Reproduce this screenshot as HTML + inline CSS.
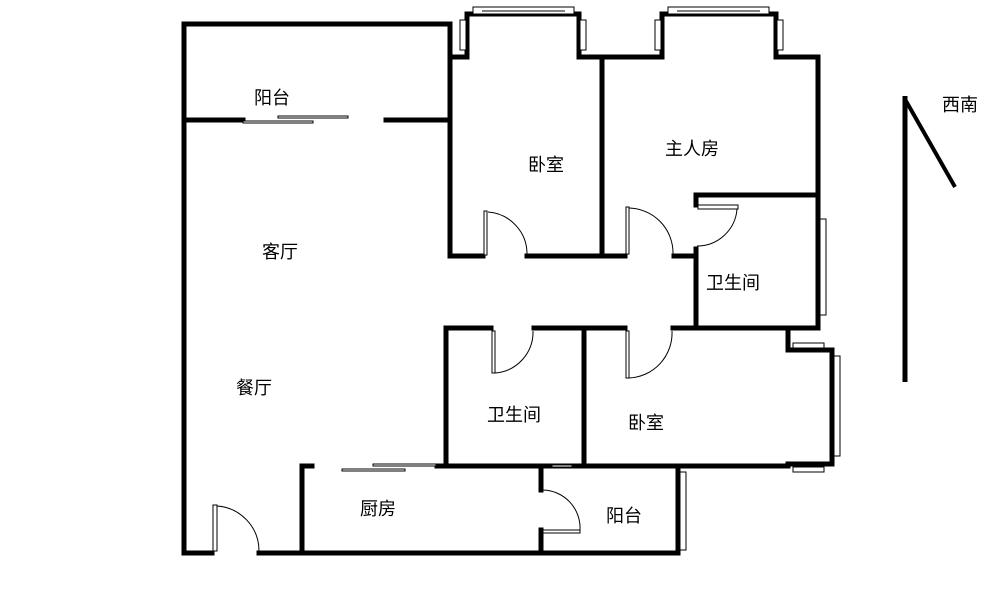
<!DOCTYPE html>
<html><head><meta charset="utf-8"><style>
html,body{margin:0;padding:0;background:#fff;}
svg{display:block}
text{font-family:"Liberation Sans","Noto Sans CJK SC",sans-serif;font-size:18px;fill:#000}
</style></head><body>
<svg width="997" height="590" viewBox="0 0 997 590" xmlns="http://www.w3.org/2000/svg">
<g stroke="#000" stroke-width="5" fill="none" stroke-linecap="square">
<!-- outer left/top -->
<polyline points="184,553 184,24 450,24 450,256"/>
<line x1="184" y1="120" x2="243" y2="120"/>
<line x1="386" y1="120" x2="450" y2="120"/>
<!-- bedroom1 -->
<polyline points="450,57 467,57 467,14 579,14 579,57 602,57"/>
<line x1="602" y1="57" x2="602" y2="256"/>
<line x1="450" y1="256" x2="483" y2="256"/>
<line x1="527" y1="256" x2="625" y2="256"/>
<line x1="674" y1="256" x2="696" y2="256"/>
<!-- master -->
<polyline points="602,57 662,57 662,14 776,14 776,57 818,57 818,328"/>
<polyline points="696,205 696,195 818,195"/>
<line x1="696" y1="249" x2="696" y2="328"/>
<!-- bedroom2 -->
<polyline points="446,466 446,328 491,328"/>
<line x1="534" y1="328" x2="625" y2="328"/>
<line x1="673" y1="328" x2="818" y2="328"/>
<line x1="584" y1="328" x2="584" y2="466"/>
<polyline points="788,328 788,350 832,350 832,464 788,464 788,466"/>
<line x1="437" y1="466" x2="788" y2="466"/>
<!-- kitchen/bottom -->
<line x1="302" y1="466" x2="312" y2="466"/>
<line x1="302" y1="466" x2="302" y2="553"/>
<line x1="184" y1="553" x2="212" y2="553"/>
<line x1="259" y1="553" x2="678" y2="553"/>
<line x1="541" y1="466" x2="541" y2="490"/>
<line x1="541" y1="530" x2="541" y2="553"/>
<line x1="678" y1="466" x2="678" y2="553"/>
<!-- compass -->
<line x1="905" y1="96" x2="905" y2="382" stroke-width="5" stroke-linecap="butt"/>
<line x1="906" y1="101" x2="955" y2="187" stroke-width="4" stroke-linecap="butt"/>
</g>
<g stroke="#000" stroke-width="1" fill="#fff">
<!-- sliding doors -->
<rect x="278" y="116" width="70" height="2"/><rect x="243" y="121" width="70" height="2"/>
<rect x="373" y="464" width="63" height="2"/><rect x="342" y="469" width="63" height="2"/>
<rect x="552" y="465" width="20" height="2"/>
<!-- windows top -->
<rect x="473" y="7" width="101" height="7"/><line x1="482" y1="11" x2="565" y2="11"/>
<rect x="668" y="7" width="101" height="7"/><line x1="677" y1="11" x2="760" y2="11"/>
<rect x="460" y="20" width="6" height="30"/><rect x="580" y="20" width="6" height="30"/>
<rect x="655" y="20" width="6" height="30"/><rect x="777" y="20" width="6" height="30"/>
<!-- right windows -->
<rect x="820" y="219" width="6" height="96"/>
<rect x="834" y="356" width="6" height="100"/>
<rect x="793" y="343" width="31" height="5"/><rect x="793" y="467" width="31" height="5"/>
<rect x="680" y="472" width="6" height="78"/>
<!-- door leaves -->
<rect x="484" y="211" width="3" height="44"/>
<rect x="626" y="207" width="3" height="47"/>
<rect x="698" y="205" width="40" height="4"/>
<rect x="492" y="331" width="3" height="42"/>
<rect x="626" y="331" width="3" height="47"/>
<rect x="213" y="505" width="4" height="46"/>
<rect x="543" y="530" width="37" height="3"/>
</g>
<g stroke="#000" stroke-width="1" fill="none">
<path d="M488,212 A42,42 0 0 1 527,254"/>
<path d="M629,208 A45,45 0 0 1 673,254"/>
<path d="M737,209 A40,40 0 0 1 697,246"/>
<path d="M533,331 A41,41 0 0 1 495,373"/>
<path d="M672,331 A45,45 0 0 1 629,378"/>
<path d="M217,506 A45,45 0 0 1 259,551"/>
<path d="M543,490 A38,38 0 0 1 580,530"/>
</g>
<text x="254" y="104">阳台</text>
<text x="262" y="258">客厅</text>
<text x="236" y="394">餐厅</text>
<text x="528" y="171">卧室</text>
<text x="665" y="155">主人房</text>
<text x="706" y="289">卫生间</text>
<text x="487" y="421">卫生间</text>
<text x="628" y="429">卧室</text>
<text x="360" y="515">厨房</text>
<text x="606" y="522">阳台</text>
<text x="942" y="111">西南</text>
</svg>
</body></html>
